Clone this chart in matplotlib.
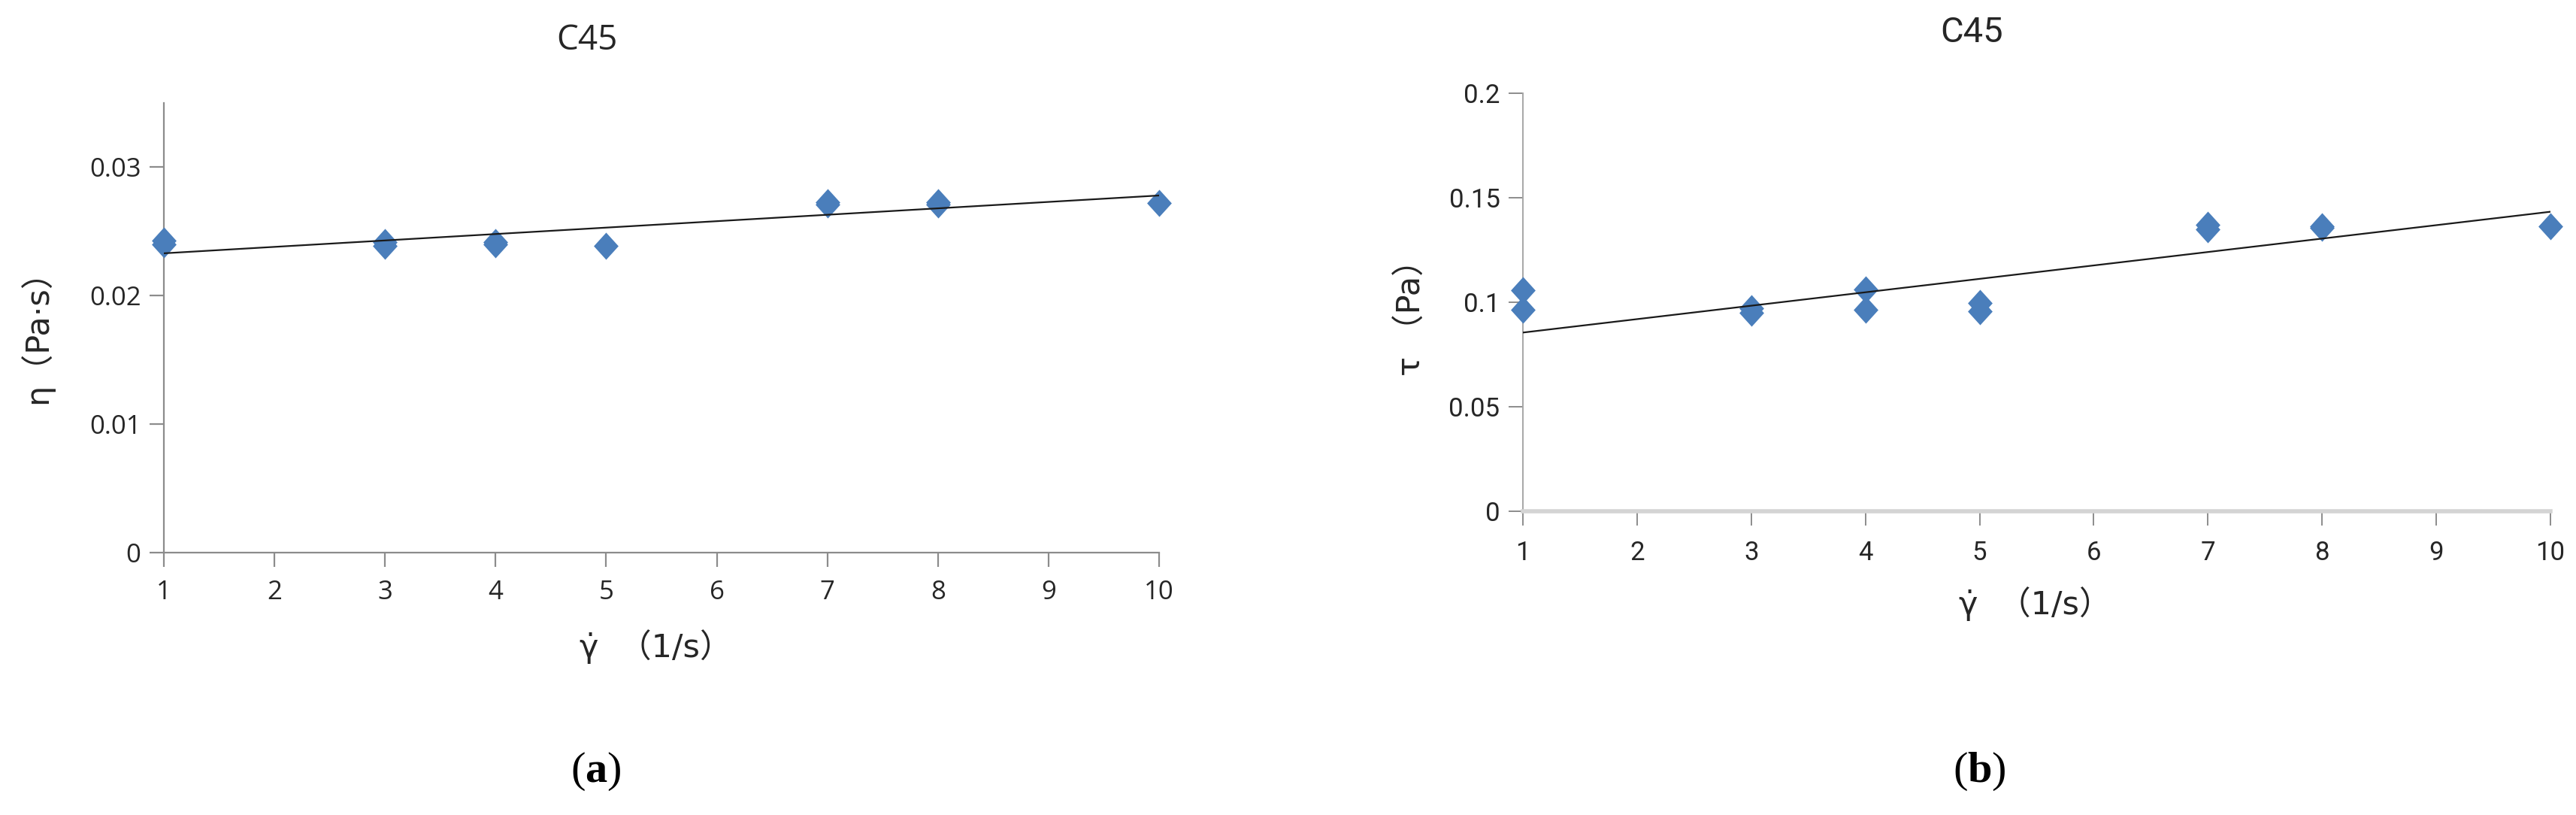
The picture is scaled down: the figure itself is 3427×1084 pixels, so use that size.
import matplotlib
matplotlib.use("Agg")
import matplotlib.pyplot as plt
from matplotlib.ticker import FixedLocator

plt.rcParams["mathtext.fontset"] = "custom"
plt.rcParams["mathtext.rm"] = "Liberation Serif"
plt.rcParams["mathtext.bf"] = "Liberation Serif:bold"

# ---------------- data ----------------
x_eta = [1, 1, 3, 3, 4, 4, 5, 7, 7, 8, 8, 10]
y_eta = [0.0243, 0.0240, 0.0242, 0.0239, 0.0242, 0.0240, 0.0239,
         0.0273, 0.0271, 0.0273, 0.0271, 0.0272]
trend_eta_x = [1, 10]
trend_eta_y = [0.0233, 0.0278]

x_tau = [1, 1, 3, 3, 4, 4, 5, 5, 7, 7, 8, 8, 10]
y_tau = [0.1057, 0.0963, 0.0970, 0.0950, 0.1060, 0.0963, 0.0996, 0.0956,
         0.1370, 0.1350, 0.1365, 0.1355, 0.1363]
trend_tau_x = [1, 10]
trend_tau_y = [0.0855, 0.1433]

x_ticks = [1, 2, 3, 4, 5, 6, 7, 8, 9, 10]
eta_ticks = [0, 0.01, 0.02, 0.03]
eta_ticklabels = ["0", "0.01", "0.02", "0.03"]
tau_ticks = [0, 0.05, 0.1, 0.15, 0.2]
tau_ticklabels = ["0", "0.05", "0.1", "0.15", "0.2"]

title_text = "C45"
eta_label = "η（Pa·s）"
tau_label = "τ （Pa）"
xlabel_text = "γ̇  （1/s）"

# ---------------- style ----------------
BLUE = "#4a7ebb"
W, H = 3427, 1084
DPI = 100
fig = plt.figure(figsize=(W / DPI, H / DPI), dpi=DPI)

lab_font = ["DejaVu Sans", "Noto Sans CJK SC"]
tick_font_l = ["Open Sans", "DejaVu Sans"]
tick_font_r = ["Roboto", "DejaVu Sans"]
diamond = [(0, 1.1), (1, 0), (0, -1.1), (-1, 0), (0, 1.1)]

def px_ax(l, r, b, t):
    return fig.add_axes([l / W, 1 - b / H, (r - l) / W, (b - t) / H])

# ---------------- left panel ----------------
ax1 = px_ax(218, 1542, 735, 137)
ax1.plot(x_eta, y_eta, linestyle="none", marker=diamond, markersize=26,
         color=BLUE, markeredgewidth=0, zorder=3, clip_on=False)
ax1.plot(trend_eta_x, trend_eta_y, color="#1a1a1a", linewidth=1.6, zorder=4)
ax1.set_xlim(1, 10)
ax1.set_ylim(0, 0.035)
ax1.xaxis.set_major_locator(FixedLocator(x_ticks))
ax1.set_yticks(eta_ticks)
ax1.set_yticklabels(eta_ticklabels)
for s in ["top", "right"]:
    ax1.spines[s].set_visible(False)
for s in ["left", "bottom"]:
    ax1.spines[s].set_color("#8c8c8c")
    ax1.spines[s].set_linewidth(1.6)
ax1.tick_params(axis="both", direction="out", length=14, width=1.6,
                color="#8c8c8c", labelsize=25, labelcolor="#262626")
ax1.tick_params(axis="y", pad=8)
ax1.tick_params(axis="x", pad=12)
for lbl in ax1.get_xticklabels() + ax1.get_yticklabels():
    lbl.set_fontfamily(tick_font_l)

# ---------------- right panel ----------------
ax2 = px_ax(2026, 3393, 680, 124)
ax2.plot(x_tau, y_tau, linestyle="none", marker=diamond, markersize=26,
         color=BLUE, markeredgewidth=0, zorder=3, clip_on=False)
ax2.plot(trend_tau_x, trend_tau_y, color="#1a1a1a", linewidth=1.6, zorder=4)
ax2.set_xlim(1, 10)
ax2.set_ylim(0, 0.2)
ax2.xaxis.set_major_locator(FixedLocator(x_ticks))
ax2.set_yticks(tau_ticks)
ax2.set_yticklabels(tau_ticklabels)
for s in ["top", "right"]:
    ax2.spines[s].set_visible(False)
ax2.spines["left"].set_color("#a6a6a6")
ax2.spines["left"].set_linewidth(1.4)
ax2.spines["bottom"].set_color("#d4d4d4")
ax2.spines["bottom"].set_linewidth(4)
ax2.tick_params(axis="both", direction="out", length=14, width=1.4,
                color="#8c8c8c", labelsize=25, labelcolor="#262626")
ax2.tick_params(axis="y", pad=8)
ax2.tick_params(axis="x", pad=14)
for lbl in ax2.get_xticklabels() + ax2.get_yticklabels():
    lbl.set_fontfamily(tick_font_r)

# ---------------- titles and labels ----------------
fig.text(781 / W, 1 - 54 / H, title_text, ha="center", va="center",
         fontsize=33, color="#262626", family=["Open Sans", "DejaVu Sans"])
fig.text(2623 / W, 1 - 43 / H, title_text, ha="center", va="center",
         fontsize=34, color="#262626", family=["Roboto", "DejaVu Sans"])

fig.text(48 / W, 1 - 437 / H, eta_label, rotation=90, ha="center", va="center",
         fontsize=31, color="#262626", family=lab_font)
fig.text(1878 / W, 1 - 412 / H, tau_label, rotation=90, ha="center", va="center",
         fontsize=31, color="#262626", family=lab_font)

fig.text(872 / W, 1 - 860 / H, xlabel_text, ha="center", va="center",
         fontsize=31, color="#262626", family=lab_font)
fig.text(2707 / W, 1 - 803 / H, xlabel_text, ha="center", va="center",
         fontsize=31, color="#262626", family=lab_font)

# panel labels
serif = ["Liberation Serif", "DejaVu Serif"]
for cx, letter in [(793, "a"), (2633, "b")]:
    fig.text(cx / W, 1 - 1026 / H, "(" + r"$\mathbf{" + letter + "}$" + ")",
             ha="center", va="center", fontsize=42, color="black", family=serif)

fig.savefig("out.png", dpi=DPI, facecolor="white")
